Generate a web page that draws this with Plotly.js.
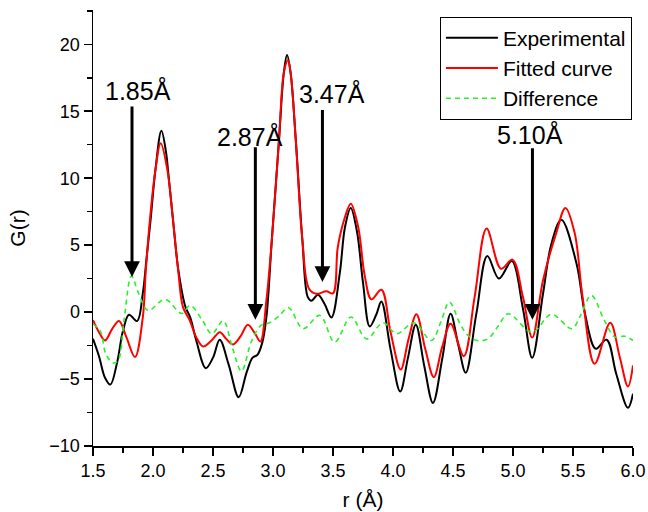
<!DOCTYPE html>
<html>
<head>
<meta charset="utf-8">
<script src="https://cdn.plot.ly/plotly-3.0.1.min.js"></script>
<style>html,body{margin:0;padding:0;background:#fff;}#chart{width:648px;height:512px;}</style>
</head>
<body>
<div id="chart"></div>
<script>
// Experimental G(r)
const rExp = [1.50,1.55,1.60,1.645,1.70,1.75,1.80,1.867,1.915,1.945,1.98,2.02,2.07,2.11,2.125,2.167,2.212,2.27,2.31,2.36,2.44,2.50,2.556,2.63,2.714,2.78,2.83,2.87,2.91,2.945,2.99,3.05,3.09,3.117,3.147,3.19,3.245,3.29,3.32,3.375,3.43,3.487,3.556,3.60,3.648,3.70,3.75,3.806,3.86,3.903,3.98,4.06,4.125,4.19,4.26,4.333,4.41,4.48,4.545,4.606,4.695,4.786,4.883,4.99,5.083,5.16,5.25,5.32,5.403,5.53,5.60,5.69,5.78,5.86,5.958,6.00];
const gExp = [-2.0,-3.3,-4.9,-5.41,-3.8,-1.4,-0.2,-0.67,1.4,3.9,6.9,10.6,13.54,11.85,10.6,6.86,3.1,0.4,-0.4,-2.1,-4.19,-3.4,-2.07,-3.9,-6.36,-4.5,-3.4,-3.2,-2.3,-0.37,5.36,12.84,17.85,19.2,17.85,12.84,5.36,1.12,0.85,1.3,0.6,-0.4,2.87,6.36,7.78,6.0,2.2,-1.07,-0.2,0.8,-2.8,-5.93,-3.4,-0.94,-4.0,-6.78,-3.5,-0.12,-2.5,-4.53,-0.1,4.19,2.5,3.81,0.25,-3.41,1.37,5.1,6.9,3.6,-0.12,-2.74,-2.06,-4.6,-7.15,-6.1];

// Fitted curve
const rFit = [1.50,1.55,1.60,1.66,1.717,1.778,1.85,1.915,1.94,1.974,2.02,2.064,2.12,2.167,2.21,2.25,2.306,2.36,2.417,2.49,2.556,2.61,2.667,2.73,2.79,2.85,2.895,2.945,2.99,3.05,3.09,3.125,3.147,3.19,3.245,3.30,3.36,3.445,3.50,3.54,3.60,3.648,3.71,3.764,3.82,3.903,3.98,4.064,4.13,4.195,4.27,4.34,4.41,4.48,4.59,4.68,4.78,4.90,4.995,5.083,5.16,5.25,5.36,5.437,5.514,5.58,5.68,5.81,5.89,5.958,6.00];
const gFit = [-0.6,-1.5,-2.12,-1.25,-0.67,-1.87,-3.36,-0.4,3.1,6.86,10.6,12.6,10.6,6.86,3.1,0.37,-0.62,-1.87,-2.57,-2.1,-1.5,-2.0,-2.42,-1.8,-0.94,-1.6,-2.2,0.87,5.36,12.84,17.85,18.8,17.85,12.84,5.36,1.75,1.37,1.55,1.4,4.86,7.1,8.1,6.36,2.74,0.95,1.67,-1.5,-4.29,-2.0,-0.17,-2.8,-4.86,-2.6,-0.87,-3.29,1.12,6.24,3.24,3.92,1.12,-1.9,2.37,5.9,7.78,5.9,1.12,-3.86,-0.8,-3.37,-5.56,-3.99];

// Difference
const rDiff = [1.50,1.56,1.61,1.67,1.71,1.76,1.82,1.88,1.96,2.10,2.24,2.31,2.41,2.49,2.584,2.66,2.737,2.82,2.90,2.97,3.05,3.13,3.25,3.39,3.514,3.65,3.78,3.917,4.03,4.175,4.32,4.40,4.47,4.56,4.625,4.70,4.79,4.88,4.96,5.16,5.32,5.49,5.56,5.653,5.76,5.85,5.93,6.00];
const gDiff = [-0.9,-1.4,-3.2,-3.8,-3.6,-0.5,2.7,1.4,0.13,0.95,-0.1,0.5,-0.6,-1.62,-0.65,-2.6,-4.41,-2.2,-0.99,-0.8,-0.3,0.33,-1.24,-0.25,-2.24,-0.37,-2.0,-0.8,-1.62,-0.8,-2.12,-0.7,0.75,-0.9,-1.74,-2.12,-2.0,-1.0,-0.12,-1.5,-0.17,-1.24,-0.3,1.25,-0.6,-1.87,-1.8,-2.12];

const xTicks = [1.5,2.0,2.5,3.0,3.5,4.0,4.5,5.0,5.5,6.0];
const xTickText = ['1.5','2.0','2.5','3.0','3.5','4.0','4.5','5.0','5.5','6.0'];
const yTicks = [-10,-5,0,5,10,15,20];

// Peak markers: label, arrow tip G, arrow tail G, label position
const peakLabels = ['1.85Å','2.87Å','3.47Å','5.10Å'];
const peakR = [1.825,2.853,3.412,5.162];
const peakTipG = [2.62,-0.57,2.24,-0.57];
const peakTopG = [15.46,12.42,15.21,12.34];
const labelR = [1.879,2.807,3.493,5.143];
const labelG = [16.56,13.13,16.3,13.27];

const FONT = 'Liberation Sans, Arial, Helvetica, sans-serif';

const traces = [
  {x:rExp, y:gExp, name:'Experimental', mode:'lines', line:{color:'#000000', width:2, shape:'spline', smoothing:1}},
  {x:rFit, y:gFit, name:'Fitted curve', mode:'lines', line:{color:'#ff0000', width:2, shape:'spline', smoothing:1}},
  {x:rDiff, y:gDiff, name:'Difference', mode:'lines', line:{color:'#2cee2c', width:1.6, dash:'5px,4px', shape:'spline', smoothing:1}}
];

const annotations = [];
for (let i = 0; i < peakLabels.length; i++) {
  annotations.push({
    x: peakR[i], y: peakTipG[i], xref:'x', yref:'y',
    ax: peakR[i], ay: peakTopG[i], axref:'x', ayref:'y',
    text:'', showarrow:true, arrowhead:2, arrowsize:1.05, arrowwidth:3, arrowcolor:'#000000', standoff:0, startstandoff:0
  });
  annotations.push({
    x: labelR[i], y: labelG[i], xref:'x', yref:'y',
    text: peakLabels[i], showarrow:false, xanchor:'center', yanchor:'middle',
    font:{family:FONT, size:25, color:'#000000'}
  });
}

const layout = {
  width:648, height:512,
  margin:{l:93, r:15, t:10, b:66},
  paper_bgcolor:'#ffffff', plot_bgcolor:'#ffffff',
  font:{family:FONT, size:18, color:'#000000'},
  showlegend:true,
  legend:{x:0.998, y:0.985, xanchor:'right', yanchor:'top', itemwidth:52, bgcolor:'#ffffff', bordercolor:'#000000', borderwidth:1, font:{family:FONT, size:21, color:'#000000'}, traceorder:'normal'},
  xaxis:{
    range:[1.5,6.0], tickvals:xTicks, ticktext:xTickText, ticks:'outside', ticklen:8, tickwidth:1.5, tickcolor:'#000',
    showline:true, linecolor:'#000', linewidth:1.5, showgrid:false, zeroline:false,
    minor:{dtick:0.25, ticks:'outside', ticklen:5, tickwidth:1.5, tickcolor:'#000', showgrid:false},
    tickfont:{family:FONT, size:18, color:'#000'},
    title:{text:'r (Å)', font:{family:FONT, size:21, color:'#000'}, standoff:12}
  },
  yaxis:{
    range:[-10,22.56], tickvals:yTicks, ticks:'outside', ticklen:8, tickwidth:1.5, tickcolor:'#000',
    showline:true, linecolor:'#000', linewidth:1.5, showgrid:false, zeroline:false,
    minor:{dtick:2.5, tick0:0, ticks:'outside', ticklen:5, tickwidth:1.5, tickcolor:'#000', showgrid:false},
    tickfont:{family:FONT, size:18, color:'#000'},
    title:{text:'G(r)', font:{family:FONT, size:21, color:'#000'}, standoff:18}
  },
  annotations: annotations
};

Plotly.newPlot('chart', traces, layout, {displayModeBar:false, staticPlot:true});
</script>
</body>
</html>
